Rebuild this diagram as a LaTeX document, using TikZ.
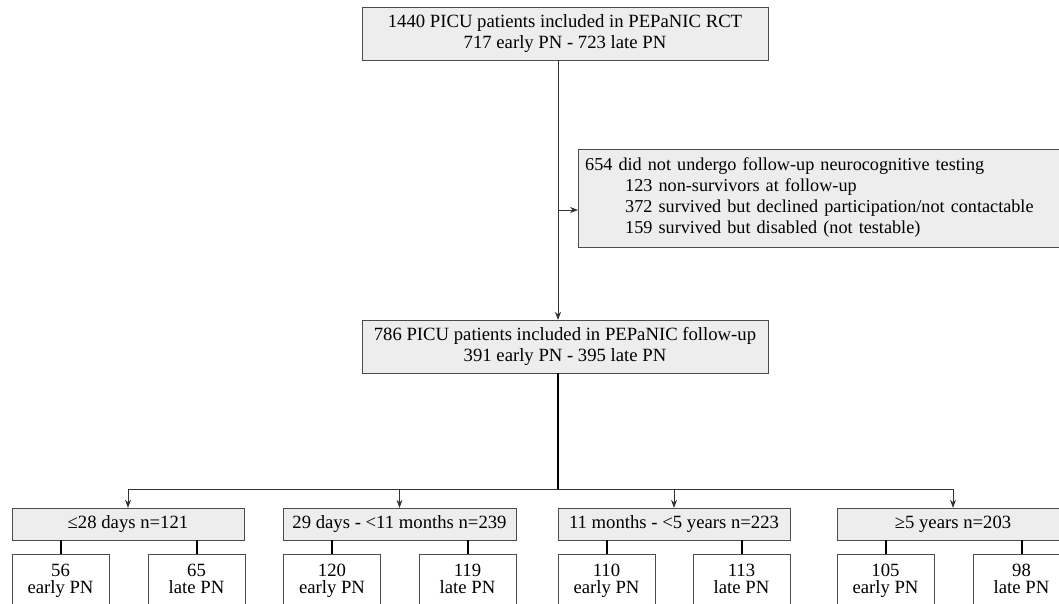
\documentclass[tikz,border=0pt]{standalone}
\usepackage{fontspec}
\setmainfont{Liberation Serif}
\usetikzlibrary{positioning,arrows.meta}

\begin{document}
\begin{tikzpicture}[>={Stealth[length=8pt,width=6pt]}, x=1pt, y=-1pt,
    every node/.style={font=\fontsize{18.7}{21}\selectfont},
    greybox/.style={draw=black!70, fill=black!7, inner sep=0pt, align=center},
    leafbox/.style={draw=black!70, fill=white, minimum width=97pt, inner xsep=0pt,
      inner ysep=10pt, align=center, anchor=north, font=\fontsize{18.7}{17}\selectfont},
    thin line/.style={draw=black!80, line width=0.7pt},
    thick line/.style={draw=black, line width=2pt}]
  \clip (0,0) rectangle (1059,603);

  % main boxes
  \node[greybox, minimum width=406pt, minimum height=53pt] (rct) at (565,33.5)
    {1440 PICU patients included in PEPaNIC RCT\\717 early PN - 723 late PN};
  \node[greybox, minimum width=406pt, minimum height=53pt] (fup) at (565,346.5)
    {786 PICU patients included in PEPaNIC follow-up\\391 early PN - 395 late PN};
  \node[greybox, anchor=west, minimum height=98pt, text width=500pt, inner xsep=7pt, align=left,
    font=\fontsize{18.2}{21}\selectfont] (excl) at (578,198)
    {654 did not undergo follow-up neurocognitive testing\\
     \hspace*{40pt}123 non-survivors at follow-up\\
     \hspace*{40pt}372 survived but declined participation/not contactable\\
     \hspace*{40pt}159 survived but disabled (not testable)};

  \coordinate (split) at (558,210);
  \coordinate (fork) at (558,489);

  \draw[thin line, ->] (rct.south -| split) -- (fup.north -| split);
  \draw[thin line, ->] (split) -- (excl.west |- split);
  \draw[thick line] (fup.south -| fork) -- (fork);

  % age groups
  \node[greybox, minimum width=232pt, minimum height=32pt] (neo) at (128,524) {≤28 days n=121};
  \node[greybox, minimum width=233pt, minimum height=32pt] (inf) at (399.5,524) {29 days - <11 months n=239};
  \node[greybox, minimum width=232pt, minimum height=32pt] (tod) at (674,524) {11 months - <5 years n=223};
  \node[greybox, minimum width=232pt, minimum height=32pt] (old) at (953,524) {≥5 years n=203};

  \draw[thin line] (neo.north |- fork) -- (old.north |- fork);
  \draw[thin line, ->] (neo.north |- fork) -- (neo.north);
  \draw[thin line, ->] (inf.north |- fork) -- (inf.north);
  \draw[thin line, ->] (tod.north |- fork) -- (tod.north);
  \draw[thin line, ->] (old.north |- fork) -- (old.north);

  % early / late PN
  \node[leafbox] (neoE) at (60.5,554) {56\\early PN};
  \node[leafbox] (neoL) at (196.5,554) {65\\late PN};
  \node[leafbox] (infE) at (332,554) {120\\early PN};
  \node[leafbox] (infL) at (467.5,554) {119\\late PN};
  \node[leafbox] (todE) at (606.5,554) {110\\early PN};
  \node[leafbox] (todL) at (741.5,554) {113\\late PN};
  \node[leafbox] (oldE) at (885.5,554) {105\\early PN};
  \node[leafbox] (oldL) at (1021.5,554) {98\\late PN};

  \draw[thick line] (neoE.north |- neo.south) -- (neoE.north);
  \draw[thick line] (neoL.north |- neo.south) -- (neoL.north);
  \draw[thick line] (infE.north |- inf.south) -- (infE.north);
  \draw[thick line] (infL.north |- inf.south) -- (infL.north);
  \draw[thick line] (todE.north |- tod.south) -- (todE.north);
  \draw[thick line] (todL.north |- tod.south) -- (todL.north);
  \draw[thick line] (oldE.north |- old.south) -- (oldE.north);
  \draw[thick line] (oldL.north |- old.south) -- (oldL.north);
\end{tikzpicture}
\end{document}
